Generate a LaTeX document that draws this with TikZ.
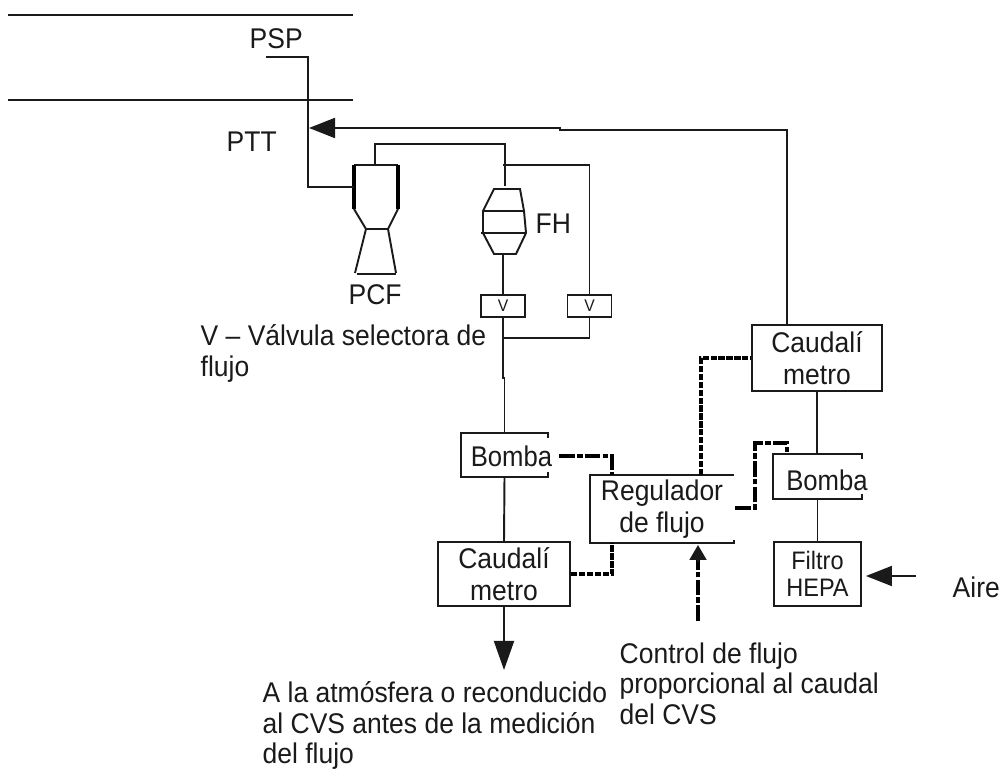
\documentclass[tikz,border=0pt]{standalone}
\usepackage{fontspec}
\setmainfont[FakeStretch=0.93]{Liberation Sans}
\usetikzlibrary{arrows.meta}
\definecolor{flowInk}{HTML}{1A1A1A}
\tikzset{
  flowLine/.style={line width=0.55pt,draw=flowInk},
  flowSignal/.style={line width=1.25pt,draw=black,dash pattern=on 4.5pt off .6pt on 1.6pt off .6pt},
  flowDense/.style={flowSignal,dash pattern=on 1.8pt off .45pt},
  flowTip/.style={flowLine,-{Triangle[length=2.6mm,width=2mm]}},
  flowBox/.style={draw=flowInk,line width=0.55pt,inner sep=0pt,align=center,
    font=\fontsize{8.1}{9}\selectfont,text=flowInk},
  flowOpen/.style={flowBox,draw=none},
  flowValve/.style={flowBox,minimum width=.44cm,minimum height=.22cm,font=\fontsize{4.8}{5}\selectfont},
  flowText/.style={inner sep=0pt,align=left,anchor=north west,font=\fontsize{8.1}{8.7}\selectfont,text=flowInk}
}
\begin{document}
\begin{tikzpicture}[x=1cm,y=-1cm]
\path[use as bounding box] (0,0) rectangle (9.99,7.69);
% conducto
\draw[flowLine] (.08,.15) -- (3.53,.15);
\draw[flowLine] (.08,1.00) -- (3.53,1.00);
\node[flowText] (psp) at (2.49,.28) {PSP};
\node[flowText] (ptt) at (2.26,1.31) {PTT};
\node[flowText] (pcf) at (3.48,2.84) {PCF};
\node[flowText] (fh) at (5.35,2.13) {FH};
\node[flowText] (nota) at (2.00,3.24) {V – Válvula selectora de\\flujo};
\node[flowText] (aire) at (9.52,5.76) {Aire};
\node[flowText] (control) at (6.19,6.42) {Control de flujo\\proporcional al caudal\\del CVS};
\node[flowText] (atm) at (2.62,6.81) {A la atmósfera o reconducido\\al CVS antes de la medición\\del flujo};
% PCF
\coordinate (pcfIn) at (3.54,1.87);
\coordinate (pcfTop) at (3.75,1.65);
\draw[flowLine] (3.54,1.65) -- (3.98,1.65);
\draw[line width=1pt] (3.54,1.65) -- (3.54,2.09);
\draw[line width=1pt] (3.98,1.65) -- (3.98,2.09);
\draw[flowLine] (3.54,2.09) -- (3.66,2.29) -- (3.88,2.29) -- (3.98,2.09);
\draw[flowLine] (3.66,2.29) -- (3.55,2.73);
\draw[flowLine] (3.88,2.29) -- (3.96,2.73);
\draw[flowLine] (3.57,2.74) -- (3.96,2.74);
% FH
\coordinate (fhTop) at (5.05,1.86);
\coordinate (fhBot) at (5.03,2.54);
\draw[flowLine] (4.94,1.89) -- (5.20,1.89) -- (5.24,2.11) -- (5.26,2.33)
  -- (5.16,2.54) -- (4.94,2.54) -- (4.83,2.33) -- (4.83,2.11) -- cycle;
\draw[flowLine] (4.83,2.11) -- (5.24,2.11);
\draw[flowLine] (4.81,2.33) -- (5.26,2.33);
% valvulas
\node[flowValve] (v1) at (5.03,3.06) {V};
\node[flowValve] (v2) at (5.895,3.06) {V};
% cajas
\node[flowOpen,minimum width=.85cm,minimum height=.42cm] (bomba1) at (5.045,4.55) {};
\node[flowText,anchor=center] (bomba1txt) at (5.115,4.56) {\scalebox{.97}[1]{Bomba}};
\node[flowBox,minimum width=1.32cm,minimum height=.64cm] (caudal1) at (5.04,5.74) {Caudalí\\metro};
\node[flowOpen,minimum width=1.42cm,minimum height=.66cm] (reg) at (6.62,5.09) {Regulador\\de flujo};
\node[flowBox,minimum width=1.30cm,minimum height=.66cm] (caudal2) at (8.17,3.58) {Caudalí\\metro};
\node[flowOpen,minimum width=.87cm,minimum height=.43cm] (bomba2) at (8.175,4.765) {};
\node[flowText,anchor=center] (bomba2txt) at (8.27,4.80) {\scalebox{.97}[1]{Bomba}};
\node[flowBox,minimum width=.87cm,minimum height=.64cm,font=\fontsize{7.2}{7.7}\selectfont] (filtro) at (8.175,5.74) {Filtro\\HEPA};
\draw[flowLine] (bomba1.north east) ++(0,.05) -- (bomba1.north east) -- (bomba1.north west)
  -- (bomba1.south west) -- (bomba1.south east) -- ++(0,-.05);
\draw[flowLine] (bomba2.north east) ++(0,.05) -- (bomba2.north east) -- (bomba2.north west)
  -- (bomba2.south west) -- (bomba2.south east) -- ++(0,-.05);
\draw[flowLine] (reg.north east) -- (reg.north west) -- (reg.south west) -- (reg.south east) -- ++(0,-.03);
% tomas
\draw[flowLine] (2.66,.57) -- (3.08,.57) |- (pcfIn);
\draw[flowLine] (pcfTop) |- (5.05,1.44) -- (fhTop);
\draw[flowLine] (5.03,1.65) -| (v2.north);
\draw[flowLine] (fhBot) -- (v1.north);
\draw[flowLine] (v2.south) |- (5.03,3.38);
\draw[flowLine] (v1.south) -- (5.03,3.78) -- (5.045,3.78) -- (bomba1.north);
\draw[flowLine] (bomba1.south) -- (caudal1.north);
\draw[flowLine] (bomba2.north -| caudal2.south) -- (caudal2.south);
\draw[flowLine] (bomba2.south) -- (filtro.north);
\coordinate (pttEnd) at (3.35,1.28);
\coordinate (aireEnd) at (9.16,5.76);
\draw[flowLine] (7.87,3.25) -- (7.87,1.30) -- (5.60,1.30) -- (5.60,1.28) -- (pttEnd);
\draw[flowTip] (pttEnd) -- (3.09,1.28);
\draw[flowTip,shorten >=.04cm] (aireEnd) -- (aireEnd -| filtro.east);
\draw[flowTip,-{Triangle[length=2.9mm,width=2mm]}] (caudal1.south) -- (5.04,6.70);
% regulador
\draw[flowSignal] (5.59,4.56) -| (reg.north -| 6.12,0);
\draw[flowDense] (caudal1.east) -| (reg.south -| 6.12,0);
\draw[flowDense] (reg.north -| 7.01,0) |- (caudal2.west);
\draw[flowSignal] (7.35,5.08) -- (7.55,5.08) -- (7.55,4.43) -- (7.87,4.43) -- (bomba2.north -| 7.87,0);
\coordinate (controlEnd) at (6.98,6.21);
\draw[flowSignal] (controlEnd) -- (6.98,5.60);
\draw[flowTip,-{Triangle[length=1.5mm,width=1.7mm]}] (6.98,5.62) -- (6.98,5.45);
\end{tikzpicture}
\end{document}
